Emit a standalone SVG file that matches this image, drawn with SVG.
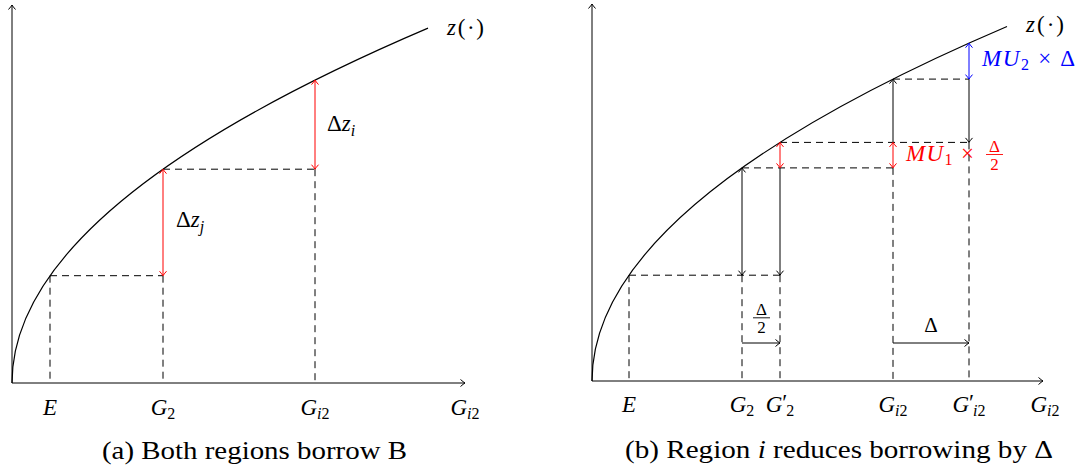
<svg xmlns="http://www.w3.org/2000/svg" width="1090" height="473" viewBox="0 0 1090 473">
<style>
text{font-family:'Liberation Serif','Times New Roman',serif}
.ax{stroke:#000;stroke-width:1;fill:none}
.curve{stroke:#000;stroke-width:1.2;fill:none}
.dash{stroke:#000;stroke-width:1;stroke-dasharray:7 5;fill:none}
.ak{stroke:#000;stroke-width:1;fill:none}
.ar{stroke:#f00;stroke-width:1;fill:none}
.ab{stroke:#00f;stroke-width:1;fill:none}
.m{font-size:23px;fill:#000}
.fr{font-size:17px}
.big{font-size:21px}
.it{font-style:italic}
.sub{font-size:16px}
.cap{font-size:25px;fill:#000}
.red{fill:#f00}
.blue{fill:#00f}
</style>
<defs>
<marker id="hk" markerUnits="userSpaceOnUse" viewBox="-6 -6 8 12" markerWidth="8" markerHeight="12" refX="0" refY="0" orient="auto-start-reverse"><path d="M-4.5,-3.5 Q-1.5,-0.9 0,0 Q-1.5,0.9 -4.5,3.5" fill="none" stroke="#000" stroke-width="1"/></marker>
<marker id="hr" markerUnits="userSpaceOnUse" viewBox="-6 -6 8 12" markerWidth="8" markerHeight="12" refX="0" refY="0" orient="auto-start-reverse"><path d="M-4.5,-3.5 Q-1.5,-0.9 0,0 Q-1.5,0.9 -4.5,3.5" fill="none" stroke="#f00" stroke-width="1"/></marker>
<marker id="hb" markerUnits="userSpaceOnUse" viewBox="-6 -6 8 12" markerWidth="8" markerHeight="12" refX="0" refY="0" orient="auto-start-reverse"><path d="M-4.5,-3.5 Q-1.5,-0.9 0,0 Q-1.5,0.9 -4.5,3.5" fill="none" stroke="#00f" stroke-width="1"/></marker>
</defs>

<g id="panel-a">
  <g id="a-axes">
    <path class="ax" d="M12,383 V5" marker-end="url(#hk)"/>
    <path class="ax" d="M12,383 H465" marker-end="url(#hk)"/>
  </g>
  <g id="a-curve"><path class="curve" d="M12,383 Q12,205.55 428,28.1"/></g>
  <g id="a-connectors">
    <path class="dash" d="M50,275.7 V383"/>
    <path class="dash" d="M50,275.7 H163"/>
    <path class="dash" d="M163,275.7 V383"/>
    <path class="dash" d="M163,169.2 H315"/>
    <path class="dash" d="M315,169.2 V383"/>
    <path class="ar" d="M163,169.2 V275.7" marker-start="url(#hr)" marker-end="url(#hr)"/>
    <path class="ar" d="M315,80.1 V169.2" marker-start="url(#hr)" marker-end="url(#hr)"/>
  </g>
  <g id="a-labels">
    <text class="m" x="447" y="35" textLength="37" lengthAdjust="spacing"><tspan class="it">z</tspan>(·)</text>
    <text class="m" x="176" y="227">Δ<tspan class="it">z</tspan><tspan class="it sub" dy="5">j</tspan></text>
    <text class="m" x="327" y="131">Δ<tspan class="it">z</tspan><tspan class="it sub" dy="5">i</tspan></text>
    <text class="m it" x="50" y="415" text-anchor="middle">E</text>
    <text class="m" x="163" y="415" text-anchor="middle"><tspan class="it">G</tspan><tspan class="sub" dy="4">2</tspan></text>
    <text class="m" x="315" y="415" text-anchor="middle"><tspan class="it">G</tspan><tspan class="sub it" dy="4">i</tspan><tspan class="sub">2</tspan></text>
    <text class="m" x="465" y="415" text-anchor="middle"><tspan class="it">G</tspan><tspan class="sub it" dy="4">i</tspan><tspan class="sub">2</tspan></text>
    <text class="cap" x="102" y="459" textLength="305" lengthAdjust="spacingAndGlyphs">(a) Both regions borrow B</text>
  </g>
</g>

<g id="panel-b">
  <g id="b-axes">
    <path class="ax" d="M592,381 V4" marker-end="url(#hk)"/>
    <path class="ax" d="M592,381 H1043" marker-end="url(#hk)"/>
  </g>
  <g id="b-curve"><path class="curve" d="M592,381 Q592,203.75 1007,26.5"/></g>
  <g id="b-connectors">
    <path class="dash" d="M629,275.2 V381"/>
    <path class="dash" d="M629,275.2 H780"/>
    <path class="dash" d="M742,275.2 V381"/>
    <path class="dash" d="M780,275.2 V381"/>
    <path class="dash" d="M742,167.9 H893"/>
    <path class="dash" d="M780,142.4 H969"/>
    <path class="dash" d="M893,167.9 V381"/>
    <path class="dash" d="M969,142.4 V381"/>
    <path class="dash" d="M893,79.1 H969"/>
    <path class="ak" d="M742,167.9 V275.2" marker-start="url(#hk)" marker-end="url(#hk)"/>
    <path class="ak" d="M780,167.9 V275.2" marker-end="url(#hk)"/>
    <path class="ak" d="M893,142.4 V79.1" marker-end="url(#hk)"/>
    <path class="ak" d="M969,79.1 V142.4" marker-end="url(#hk)"/>
    <path class="ak" d="M742,343 H780" marker-end="url(#hk)"/>
    <path class="ak" d="M893,343 H969" marker-end="url(#hk)"/>
    <path class="ar" d="M780,142.4 V167.9" marker-start="url(#hr)" marker-end="url(#hr)"/>
    <path class="ar" d="M893,142.4 V167.9" marker-start="url(#hr)" marker-end="url(#hr)"/>
    <path class="ab" d="M969,43.2 V79.1" marker-start="url(#hb)" marker-end="url(#hb)"/>
  </g>
  <g id="b-labels">
    <text class="m" x="1026" y="32" textLength="38" lengthAdjust="spacing"><tspan class="it">z</tspan>(·)</text>
    <text id="lbl-mu2" class="m blue" x="982" y="66" textLength="93" lengthAdjust="spacing"><tspan class="it">MU</tspan><tspan class="sub" dy="4">2</tspan><tspan dy="-4"> × Δ</tspan></text>
    <g id="lbl-mu1">
      <text class="m red" x="906" y="161" textLength="68" lengthAdjust="spacing"><tspan class="it">MU</tspan><tspan class="sub" dy="4">1</tspan><tspan dy="-4"> ×</tspan></text>
      <text class="m fr red" x="994.5" y="151.5" text-anchor="middle">Δ</text>
      <line x1="986" y1="154.5" x2="1003" y2="154.5" stroke="#f00" stroke-width="0.9"/>
      <text class="m fr red" x="994.5" y="170" text-anchor="middle">2</text>
    </g>
    <g id="lbl-half">
      <text class="m fr" x="761.5" y="314.5" text-anchor="middle">Δ</text>
      <line x1="753" y1="317.8" x2="770" y2="317.8" stroke="#000" stroke-width="0.9"/>
      <text class="m fr" x="761.5" y="333" text-anchor="middle">2</text>
    </g>
    <text class="m big" x="931" y="332" text-anchor="middle">Δ</text>
    <text class="m it" x="629" y="412" text-anchor="middle">E</text>
    <text class="m" x="742" y="412" text-anchor="middle"><tspan class="it">G</tspan><tspan class="sub" dy="4">2</tspan></text>
    <text class="m" x="780" y="412" text-anchor="middle"><tspan class="it">G</tspan><tspan dy="-2">′</tspan><tspan class="sub" dx="-1" dy="6">2</tspan></text>
    <text class="m" x="893" y="412" text-anchor="middle"><tspan class="it">G</tspan><tspan class="sub it" dy="4">i</tspan><tspan class="sub">2</tspan></text>
    <text class="m" x="969" y="412" text-anchor="middle"><tspan class="it">G</tspan><tspan dy="-2">′</tspan><tspan class="sub it" dx="-1" dy="6">i</tspan><tspan class="sub">2</tspan></text>
    <text class="m" x="1045" y="412" text-anchor="middle"><tspan class="it">G</tspan><tspan class="sub it" dy="4">i</tspan><tspan class="sub">2</tspan></text>
    <text class="cap" x="625" y="458" textLength="428" lengthAdjust="spacingAndGlyphs">(b) Region <tspan class="it">i</tspan> reduces borrowing by Δ</text>
  </g>
</g>
</svg>
